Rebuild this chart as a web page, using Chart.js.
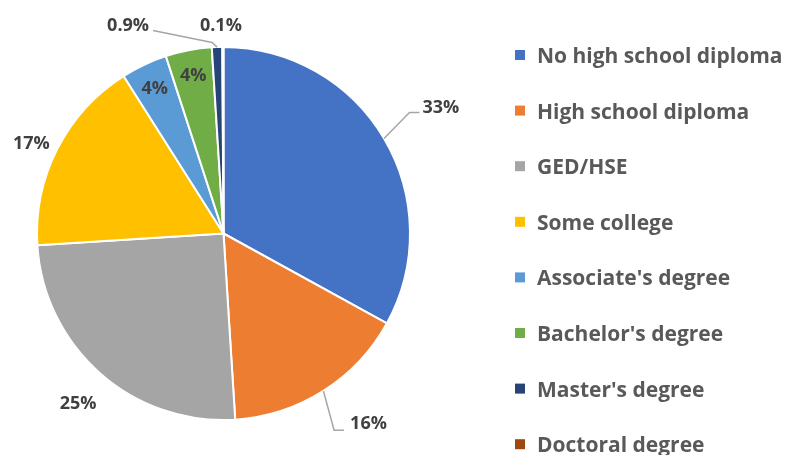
<!DOCTYPE html>
<html>
<head>
<meta charset="utf-8">
<script src="https://cdn.jsdelivr.net/npm/chart.js@4"></script>
<style>
  html, body { margin: 0; padding: 0; background: #fff; }
  #wrap { width: 800px; height: 455px; position: relative; }
</style>
</head>
<body>
<div id="wrap"><canvas id="pie-chart"></canvas></div>
<script>
// data
var categories = ["No high school diploma", "High school diploma", "GED/HSE", "Some college",
                  "Associate's degree", "Bachelor's degree", "Master's degree", "Doctoral degree"];
var shares = [33, 16, 25, 17, 4, 4, 0.9, 0.1];
var shareLabels = ["33%", "16%", "25%", "17%", "4%", "4%", "0.9%", "0.1%"];
var sliceColors = ["#4472C4", "#ED7D31", "#A5A5A5", "#FFC000", "#5B9BD5", "#70AD47", "#264478", "#9E480E"];

// where each percent label sits: k = fraction of radius along mid angle (da = angle nudge, degrees)
// or "edge" = offset from the outer edge point of the slice
var labelPlace = [
  {k: 1.35, da: 0.3, leader: "right"},
  {k: 1.28, da: -5, leader: "rightLow"},
  {k: 1.195, da: -0.7},
  {k: 1.14, da: -1.7},
  {k: 0.865, da: 0},
  {k: 0.867, da: 0},
  {edge: [-89, -22.6], leader: "left"},
  {edge: [-2, -22.5]}
];

var labelFont = "bold 18px 'Open Sans'";
var legendFont = "bold 21px 'Open Sans'";

var pieLabels = {
  id: "pieLabels",
  afterDatasetsDraw: function(chart) {
    var ctx = chart.ctx;
    var arcs = chart.getDatasetMeta(0).data;
    ctx.save();
    ctx.font = labelFont;
    ctx.textBaseline = "middle";
    ctx.textAlign = "center";
    arcs.forEach(function(arc, i) {
      var p = arc.getProps(["x", "y", "startAngle", "endAngle", "outerRadius"], true);
      var mid = (p.startAngle + p.endAngle) / 2;
      var ex = p.x + Math.cos(mid) * p.outerRadius;
      var ey = p.y + Math.sin(mid) * p.outerRadius;
      var pl = labelPlace[i];
      var lx, ly;
      if (pl.edge) {
        lx = ex + pl.edge[0];
        ly = ey + pl.edge[1];
      } else {
        var a = mid + pl.da * Math.PI / 180;
        lx = p.x + Math.cos(a) * p.outerRadius * pl.k;
        ly = p.y + Math.sin(a) * p.outerRadius * pl.k;
      }
      var w = ctx.measureText(shareLabels[i]).width;
      if (pl.leader) {
        ctx.strokeStyle = "#A6A6A6";
        ctx.lineWidth = 1.5;
        ctx.beginPath();
        ctx.moveTo(ex, ey);
        if (pl.leader === "right") {
          ctx.lineTo(lx - w / 2 - 13, ly + 6);
          ctx.lineTo(lx - w / 2 - 3, ly + 6);
        } else if (pl.leader === "rightLow") {
          ctx.lineTo(lx - w / 2 - 16, ly + 7);
          ctx.lineTo(lx - w / 2 - 6, ly + 7);
        } else {
          ctx.lineTo(ex - 5, ey - 4.6);
          ctx.lineTo(lx + w / 2 + 4, ly + 6);
        }
        ctx.stroke();
      }
      ctx.fillStyle = "#404040";
      ctx.fillText(shareLabels[i], lx, ly + 1);
    });
    ctx.restore();
  }
};

// legend on the right, drawn by hand so it can run off the bottom like the original
var sideLegend = {
  id: "sideLegend",
  afterDraw: function(chart) {
    var ctx = chart.ctx;
    ctx.save();
    ctx.font = legendFont;
    ctx.textBaseline = "middle";
    ctx.textAlign = "left";
    categories.forEach(function(name, i) {
      var y = 55 + i * 55.6;
      ctx.fillStyle = sliceColors[i];
      ctx.fillRect(515, y - 5, 10, 10);
      ctx.fillStyle = "#595959";
      ctx.fillText(name, 537, y + 2);
    });
    ctx.restore();
  }
};

var pieChart = new Chart(document.getElementById("pie-chart"), {
  type: "pie",
  data: {
    labels: categories,
    datasets: [{
      data: shares,
      backgroundColor: sliceColors,
      borderColor: "#ffffff",
      borderWidth: 2
    }]
  },
  options: {
    responsive: true,
    maintainAspectRatio: false,
    animation: false,
    layout: { padding: { left: 36, right: 389, top: 46, bottom: 34 } },
    plugins: {
      legend: { display: false },
      tooltip: { enabled: false }
    }
  },
  plugins: [pieLabels, sideLegend]
});
</script>
</body>
</html>
